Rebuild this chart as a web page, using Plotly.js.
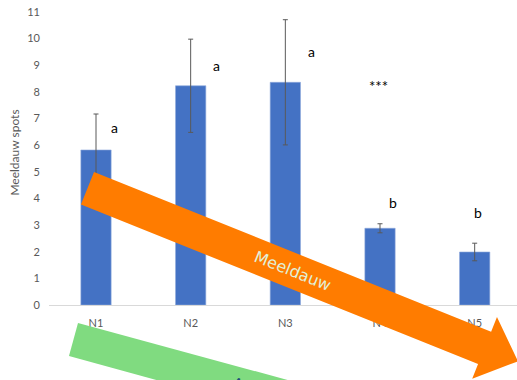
<!DOCTYPE html>
<html>
<head>
<meta charset="utf-8">
<script src="https://cdn.plot.ly/plotly-3.0.1.min.js"></script>
<style>
  html, body { margin: 0; padding: 0; background: #fff; }
  #chart { width: 517px; height: 380px; }
</style>
</head>
<body>
<div id="chart"></div>
<script>
// Mildew spots per nitrogen level, with standard error
const categories = ["N1", "N2", "N3", "N4", "N5"];
const spots = [5.82, 8.23, 8.36, 2.88, 1.99];
const spotsErr = [1.35, 1.75, 2.35, 0.17, 0.33];
const groupLetters = ["a", "a", "a", "b", "b"];
const letterHeights = [6.68, 9.0, 9.5, 3.83, 3.49];
const letterShifts = [18, 26, 26, 13, 3];
const yTicks = [0, 1, 2, 3, 4, 5, 6, 7, 8, 9, 10, 11];

const W = 517, H = 380;
const M = { l: 49, r: 0, t: 0, b: 75 };
const plotW = W - M.l - M.r, plotH = H - M.t - M.b;

// pixel position on the page -> paper coordinates
const px = x => (x - M.l) / plotW;
const py = y => (H - M.b - y) / plotH;
const toPath = pts => pts.map((p, i) => (i ? "L" : "M") + px(p[0]).toFixed(4) + "," + py(p[1]).toFixed(4)).join(" ") + " Z";

// Arrow polygon from its start corner, direction angle, body width and head geometry
function arrowPts(x0, y0, angleDeg, width, bodyLen, headOver, headLen) {
  const a = angleDeg * Math.PI / 180;
  const d = [Math.cos(a), Math.sin(a)], n = [-Math.sin(a), Math.cos(a)];
  const at = (t, s) => [x0 + t * d[0] + s * n[0], y0 + t * d[1] + s * n[1]];
  return [
    at(0, 0), at(bodyLen, 0), at(bodyLen, -headOver),
    at(bodyLen + headLen, width / 2),
    at(bodyLen, width + headOver), at(bodyLen, width), at(0, width)
  ];
}

const orangeArrow = arrowPts(94, 172, 21.9, 35, 428, 15.7, 36);
const greenArrow = [[78, 323], [420, 416], [411, 450], [69, 356]];

// invisible box carrying a rotated text label, drawn on top of the arrows
function labelBox(cx, cy, text, angle, color) {
  return {
    type: "rect", xref: "paper", yref: "paper",
    x0: px(cx - 2), x1: px(cx + 2), y0: py(cy + 2), y1: py(cy - 2),
    fillcolor: "rgba(0,0,0,0)", line: { width: 0 }, layer: "above",
    label: {
      text: text, textangle: angle, textposition: "middle center",
      font: { family: "DejaVu Sans, sans-serif", size: 16, color: color }
    }
  };
}

const trace = {
  type: "bar",
  x: categories,
  y: spots,
  width: 0.32,
  marker: { color: "#4472C4", line: { color: "#8eaadb", width: 0.6 } },
  error_y: { type: "data", array: spotsErr, visible: true, color: "#595959", thickness: 1, width: 2.5 },
  hoverinfo: "skip"
};

const annotations = categories.map((c, i) => ({
  x: c, y: letterHeights[i], xref: "x", yref: "y",
  text: groupLetters[i], showarrow: false, xshift: letterShifts[i],
  font: { family: "Lato, Open Sans, sans-serif", size: 14, color: "#000" }
}));
annotations.push({
  x: "N4", y: 8.22, xref: "x", yref: "y", text: "***", showarrow: false, xshift: -2,
  font: { family: "Lato, sans-serif", size: 15, color: "#000" }
});

const layout = {
  width: W, height: H,
  margin: M,
  paper_bgcolor: "#fff", plot_bgcolor: "#fff",
  showlegend: false,
  font: { family: "Lato, Open Sans, sans-serif", color: "#595959" },
  xaxis: {
    type: "category",
    range: [-0.4965, 4.447],
    showgrid: false, zeroline: false,
    showline: true, linecolor: "#d9d9d9", linewidth: 1,
    ticks: "", ticklabelstandoff: 8,
    tickfont: { size: 11, color: "#595959" }
  },
  yaxis: {
    range: [0, 11.45],
    tickvals: yTicks,
    showgrid: false, zeroline: false, showline: false,
    ticks: "", ticklabelstandoff: 8,
    tickfont: { size: 11, color: "#595959" },
    title: { text: "Meeldauw spots", font: { size: 12, color: "#595959" }, standoff: 5 }
  },
  shapes: [
    { type: "path", xref: "paper", yref: "paper", path: toPath(greenArrow),
      fillcolor: "#80db80", line: { width: 0 }, layer: "above" },
    { type: "path", xref: "paper", yref: "paper", path: toPath(orangeArrow),
      fillcolor: "#ff7c00", line: { width: 0 }, layer: "above" },
    labelBox(293, 270, "Meeldauw", 21.9, "#e2f0d9"),
    labelBox(259, 389, "Afweer", 15.3, "#1f4e79")
  ],
  annotations: annotations
};

Plotly.newPlot("chart", [trace], layout, { staticPlot: true, displayModeBar: false });
</script>
</body>
</html>
